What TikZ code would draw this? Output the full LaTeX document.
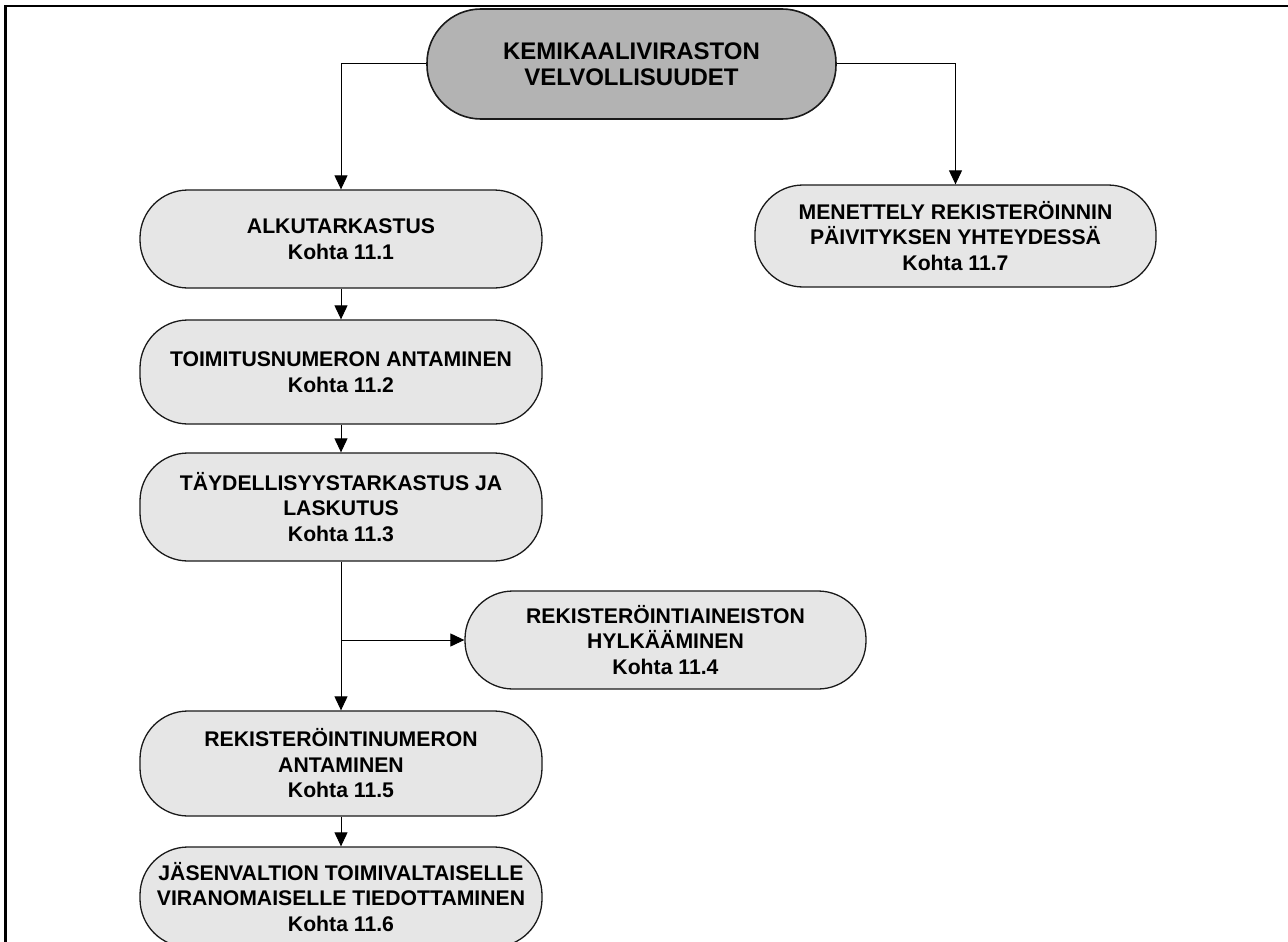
\documentclass[tikz,border=0pt]{standalone}
\usepackage{fontspec}
\setmainfont{Liberation Sans}
\usetikzlibrary{arrows.meta}

\definecolor{headfill}{HTML}{B3B3B3}
\definecolor{boxfill}{HTML}{E6E6E6}
\definecolor{boxline}{HTML}{1A1A1A}

\tikzset{
  stage/.style={draw=boxline, line width=1.3pt, fill=boxfill,
    rounded corners=48pt, inner sep=0pt, align=center,
    font=\fontsize{21.2}{25.5}\selectfont\bfseries},
  headstage/.style={stage, fill=headfill, line width=1.6pt, rounded corners=54pt,
    font=\fontsize{24}{26}\selectfont\bfseries},
  flow/.style={line width=1pt, draw=black,
    -{Triangle[length=14pt, width=13pt]}},
  frameline/.style={line width=2.7pt, draw=black}
}

\begin{document}
\begin{tikzpicture}[x=1pt, y=-1pt]
  \useasboundingbox (0,0) rectangle (1288,942);
  \fill[white] (0,0) rectangle (1288,942);

  % page frame (top and left edges)
  \draw[frameline] (5.5,960) -- (5.5,6) -- (1300,6);

  % stages
  \node[headstage, minimum width=409pt, minimum height=110pt] (head) at (631.5,64)
    {KEMIKAALIVIRASTON\\VELVOLLISUUDET};
  \node[stage, minimum width=402pt, minimum height=98pt] (alku) at (341,239)
    {ALKUTARKASTUS\\Kohta 11.1};
  \node[stage, minimum width=402pt, minimum height=104pt] (toim) at (341,372)
    {TOIMITUSNUMERON ANTAMINEN\\Kohta 11.2};
  \node[stage, minimum width=402pt, minimum height=108pt] (tayd) at (341,507)
    {TÄYDELLISYYSTARKASTUS JA\\LASKUTUS\\Kohta 11.3};
  \node[stage, minimum width=401pt, minimum height=98pt] (hylk) at (665.5,640)
    {REKISTERÖINTIAINEISTON\\HYLKÄÄMINEN\\Kohta 11.4};
  \node[stage, minimum width=402pt, minimum height=105pt] (renu) at (341,763.5)
    {REKISTERÖINTINUMERON\\ANTAMINEN\\Kohta 11.5};
  \node[stage, minimum width=402pt, minimum height=100pt] (jase) at (341,897)
    {JÄSENVALTION TOIMIVALTAISELLE\\VIRANOMAISELLE TIEDOTTAMINEN\\Kohta 11.6};
  \node[stage, minimum width=401pt, minimum height=102pt] (paiv) at (955.5,236)
    {MENETTELY REKISTERÖINNIN\\PÄIVITYKSEN YHTEYDESSÄ\\Kohta 11.7};

  % connectors
  \draw[flow] (head.west) -| (alku.north);
  \draw[flow] (head.east) -| (paiv.north);
  \draw[flow] (alku.south) -- (toim.north);
  \draw[flow] (toim.south) -- (tayd.north);
  \draw[flow] (tayd.south) -- (renu.north);
  \coordinate (fork) at (tayd.south |- hylk.west);
  \draw[flow] (fork) -- (hylk.west);
  \draw[flow] (renu.south) -- (jase.north);
\end{tikzpicture}
\end{document}
